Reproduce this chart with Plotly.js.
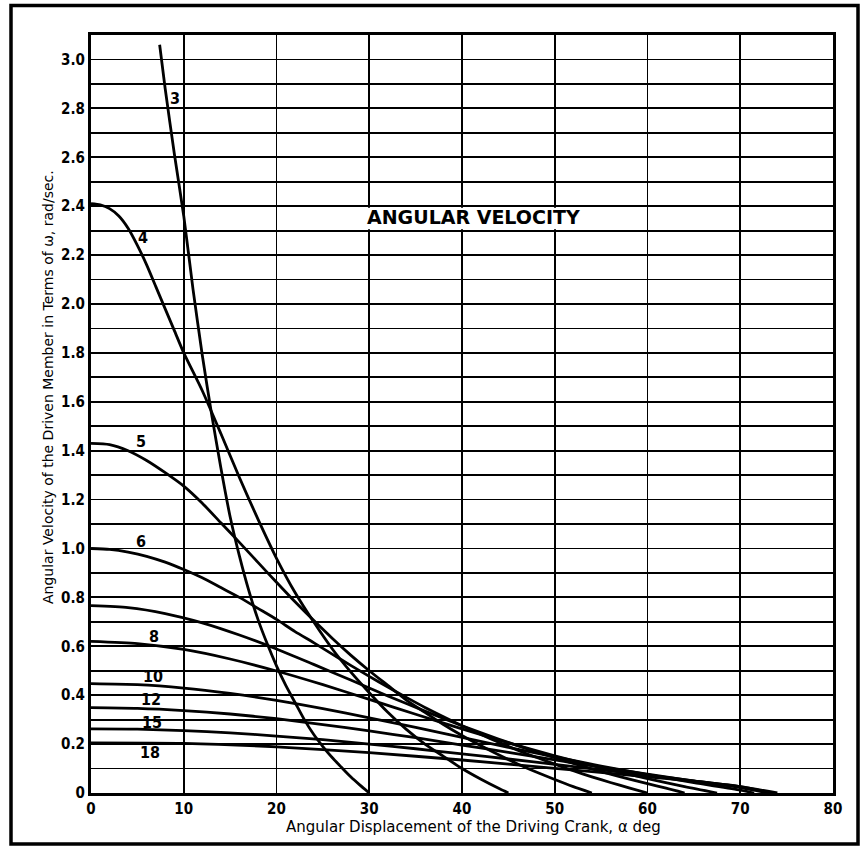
<!DOCTYPE html>
<html>
<head>
<meta charset="utf-8">
<script src="https://cdn.plot.ly/plotly-3.0.1.min.js"></script>
<style>
  html, body { margin: 0; padding: 0; background: #fff; }
  #chart { width: 864px; height: 849px; }
</style>
</head>
<body>
<div id="chart"></div>
<script>
// Curve labels (number of slots)
const curveLabels = ['3', '4', '5', '6', '7', '8', '10', '12', '15', '18'];

// Angular displacement (deg) and angular velocity readings per curve
const x3 = [7.4, 8, 9, 10, 11, 12, 13, 14, 15, 16, 17, 18, 19, 20, 21, 22, 23, 24, 25, 26, 27, 28, 29, 30];
const y3 = [3.06, 2.88, 2.61, 2.36, 2.06, 1.79, 1.55, 1.33, 1.13, 0.97, 0.83, 0.71, 0.61, 0.52, 0.44, 0.37, 0.30, 0.24, 0.19, 0.145, 0.105, 0.066, 0.032, 0];

const x4 = [0, 1, 2, 3, 4, 5, 6, 7, 8, 9, 10, 12, 14, 16, 18, 20, 22, 24, 26, 28, 30, 32, 34, 36, 38, 40, 42, 44, 45];
const y4 = [2.41, 2.405, 2.39, 2.36, 2.31, 2.24, 2.16, 2.07, 1.98, 1.89, 1.80, 1.645, 1.47, 1.29, 1.12, 0.96, 0.82, 0.70, 0.59, 0.495, 0.41, 0.33, 0.26, 0.20, 0.15, 0.10, 0.057, 0.018, 0];

const x5 = [0, 2, 4, 6, 8, 10, 12, 14, 16, 18, 20, 22, 24, 26, 28, 30, 32, 34, 36, 38, 40, 42, 44, 46, 48, 50, 52, 54];
const y5 = [1.43, 1.425, 1.40, 1.36, 1.31, 1.255, 1.185, 1.105, 1.025, 0.943, 0.862, 0.782, 0.706, 0.633, 0.564, 0.50, 0.44, 0.38, 0.33, 0.28, 0.235, 0.194, 0.155, 0.119, 0.086, 0.055, 0.026, 0];

const x6 = [0, 2, 4, 6, 8, 10, 12, 14, 16, 18, 20, 22, 24, 26, 28, 30, 32, 34, 36, 38, 40, 42, 44, 46, 48, 50, 52, 54, 56, 58, 60];
const y6 = [1.0, 0.996, 0.985, 0.968, 0.944, 0.914, 0.88, 0.84, 0.80, 0.755, 0.71, 0.66, 0.615, 0.568, 0.522, 0.477, 0.433, 0.391, 0.35, 0.312, 0.275, 0.24, 0.207, 0.175, 0.146, 0.118, 0.091, 0.066, 0.043, 0.021, 0];

const x7 = [0, 4, 8, 12, 16, 20, 24, 28, 32, 36, 40, 44, 48, 52, 56, 60, 62, 64];
const y7 = [0.766, 0.758, 0.734, 0.696, 0.646, 0.589, 0.526, 0.462, 0.397, 0.335, 0.275, 0.22, 0.168, 0.121, 0.077, 0.038, 0.02, 0];

const x8 = [0, 5, 10, 15, 20, 25, 30, 35, 40, 45, 50, 55, 60, 64, 67.5];
const y8 = [0.62, 0.611, 0.587, 0.548, 0.499, 0.443, 0.383, 0.322, 0.262, 0.205, 0.152, 0.103, 0.059, 0.026, 0];

const x10 = [0, 5, 10, 15, 20, 25, 30, 35, 40, 45, 50, 55, 60, 65, 70, 71.5];
const y10 = [0.447, 0.443, 0.429, 0.407, 0.379, 0.345, 0.307, 0.268, 0.227, 0.187, 0.148, 0.11, 0.075, 0.042, 0.012, 0];

const x12 = [0, 5, 10, 15, 20, 25, 30, 35, 40, 45, 50, 55, 60, 65, 70, 73];
const y12 = [0.349, 0.346, 0.337, 0.323, 0.304, 0.28, 0.254, 0.226, 0.196, 0.166, 0.135, 0.106, 0.077, 0.049, 0.022, 0];

const x15 = [0, 5, 10, 15, 20, 25, 30, 35, 40, 45, 50, 55, 60, 65, 70, 73.5];
const y15 = [0.262, 0.261, 0.255, 0.246, 0.233, 0.218, 0.20, 0.181, 0.16, 0.139, 0.117, 0.095, 0.073, 0.05, 0.026, 0];

const x18 = [0, 10, 20, 30, 40, 50, 60, 65, 70, 74];
const y18 = [0.205, 0.203, 0.189, 0.165, 0.135, 0.101, 0.066, 0.048, 0.026, 0];

// Label positions for curve numbers (data coords)
const labelText = ['3', '4', '5', '6', '8', '10', '12', '15', '18'];
const labelX = [9.05, 5.6, 5.4, 5.4, 6.8, 6.7, 6.5, 6.6, 6.4];
const labelY = [2.84, 2.27, 1.437, 1.03, 0.64, 0.478, 0.382, 0.287, 0.164];

// Axis ticks
const xTickVals = [0, 10, 20, 30, 40, 50, 60, 70, 80];
const xTickText = ['0', '10', '20', '30', '40', '50', '60', '70', '80'];
const yTickVals = [0, 0.1, 0.2, 0.3, 0.4, 0.5, 0.6, 0.7, 0.8, 0.9, 1.0, 1.1, 1.2, 1.3, 1.4, 1.5, 1.6, 1.7, 1.8, 1.9, 2.0, 2.1, 2.2, 2.3, 2.4, 2.5, 2.6, 2.7, 2.8, 2.9, 3.0];
const yTickText = ['0', '', '0.2', '', '0.4', '', '0.6', '', '0.8', '', '1.0', '', '1.2', '', '1.4', '', '1.6', '', '1.8', '', '2.0', '', '2.2', '', '2.4', '', '2.6', '', '2.8', '', '3.0'];

const titleText = 'ANGULAR VELOCITY';
const xTitle = 'Angular Displacement of the Driving Crank, \u03b1 deg';
const yTitle = 'Angular Velocity of the Driven Member in Terms of \u03c9, rad/sec.';

const xs = [x3, x4, x5, x6, x7, x8, x10, x12, x15, x18];
const ys = [y3, y4, y5, y6, y7, y8, y10, y12, y15, y18];

const FONT = '"DejaVu Sans Condensed", "DejaVu Sans", sans-serif';
const FONT2 = '"DejaVu Sans", sans-serif';

const traces = xs.map((xv, i) => ({
  type: 'scatter',
  mode: 'lines',
  x: xv,
  y: ys[i],
  name: curveLabels[i],
  line: { color: '#000', width: 2.8, shape: 'spline', smoothing: 0.6 },
  hoverinfo: 'skip',
  showlegend: false
}));

const annotations = labelText.map((t, i) => ({
  x: labelX[i], y: labelY[i], xref: 'x', yref: 'y',
  text: t, showarrow: false,
  font: { family: FONT, size: 16, color: '#000', weight: 'bold' },
  xanchor: 'center', yanchor: 'middle'
}));

annotations.push({
  x: 41.2, y: 2.355, xref: 'x', yref: 'y', text: titleText, showarrow: false,
  font: { family: FONT2, size: 19, color: '#000', weight: 'bold' },
  xanchor: 'center', yanchor: 'middle'
});
annotations.push({
  x: (473 - 91) / 742, y: (793 - 827) / 758, xref: 'paper', yref: 'paper',
  text: xTitle, showarrow: false,
  font: { family: FONT2, size: 15, color: '#000' },
  xanchor: 'center', yanchor: 'middle'
});
annotations.push({
  x: (47.5 - 91) / 742, y: (793 - 387.5) / 758, xref: 'paper', yref: 'paper',
  text: yTitle, showarrow: false, textangle: -90,
  font: { family: FONT2, size: 14, color: '#000' },
  xanchor: 'center', yanchor: 'middle'
});

const shapes = [
  { type: 'rect', xref: 'x', yref: 'y', x0: 25, x1: 55, y0: 2.306, y1: 2.394,
    fillcolor: '#fff', line: { width: 0 }, layer: 'above' },
  { type: 'rect', xref: 'paper', yref: 'paper',
    x0: (11 - 91) / 742, x1: (858 - 91) / 742,
    y0: (793 - 844) / 758, y1: (793 - 5.5) / 758,
    line: { color: '#000', width: 3.5 }, fillcolor: 'rgba(0,0,0,0)', layer: 'above' }
];

const layout = {
  width: 864, height: 849,
  margin: { l: 91, r: 31, t: 35, b: 56 },
  paper_bgcolor: '#fff', plot_bgcolor: '#fff',
  showlegend: false,
  xaxis: {
    range: [0, 80], tickmode: 'array', tickvals: xTickVals, ticktext: xTickText,
    showgrid: true, gridcolor: '#000', gridwidth: 1.8, zeroline: false,
    showline: true, mirror: true, linecolor: '#000', linewidth: 3,
    ticks: '', tickfont: { family: FONT, size: 15, color: '#000', weight: 'bold' },
    fixedrange: true
  },
  yaxis: {
    range: [0, 3.1], tickmode: 'array', tickvals: yTickVals, ticktext: yTickText,
    showgrid: true, gridcolor: '#000', gridwidth: 1.8, zeroline: false,
    showline: true, mirror: true, linecolor: '#000', linewidth: 3,
    ticks: '', tickfont: { family: FONT, size: 15, color: '#000', weight: 'bold' },
    fixedrange: true
  },
  annotations: annotations,
  shapes: shapes
};

Plotly.newPlot('chart', traces, layout, { staticPlot: true, displayModeBar: false });
</script>
</body>
</html>
